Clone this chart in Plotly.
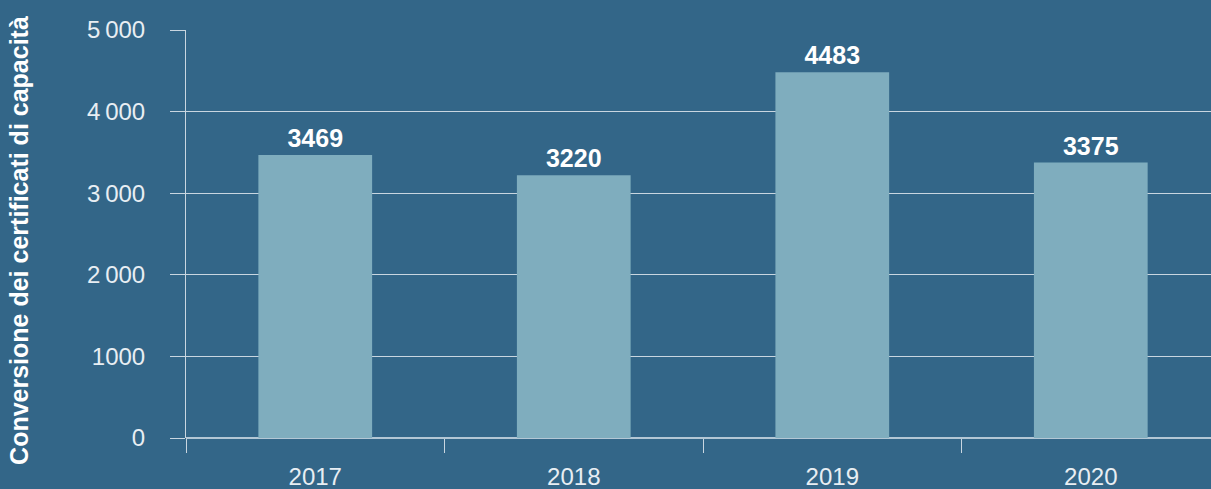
import plotly.graph_objects as go

years = ["2017", "2018", "2019", "2020"]
values = [3469, 3220, 4483, 3375]
y_ticks = [0, 1000, 2000, 3000, 4000, 5000]
y_tick_text = ["0", "1000", "2\u2009000", "3\u2009000", "4\u2009000", "5\u2009000"]
y_title = "Conversione dei certificati di capacità"

BG = "#336688"
BAR = "#7FADBE"
GRID = "#C9D6E0"
FONT = "Liberation Sans"

fig = go.Figure(go.Bar(
    x=years, y=values, width=0.44,
    marker=dict(color=BAR, line=dict(width=0)),
    text=[str(v) for v in values], textposition="outside",
    textfont=dict(family=FONT, size=25, color="white", weight="bold"),
    cliponaxis=False,
))

fig.update_layout(
    width=1211, height=489,
    paper_bgcolor=BG, plot_bgcolor=BG,
    margin=dict(l=186, r=0, t=30, b=51),
    showlegend=False,
    font=dict(family=FONT, color="white"),
)
fig.update_xaxes(
    type="category", range=[-0.5, 3.465],
    showgrid=False, showline=False, zeroline=False,
    ticks="outside", tickson="boundaries", ticklen=14, tickwidth=1, tickcolor=GRID,
    tickfont=dict(family=FONT, size=24, color="#E8EEF3"),
    ticklabelstandoff=22,
)
fig.update_yaxes(
    range=[0, 5000], tickvals=y_ticks, ticktext=y_tick_text,
    showgrid=True, gridcolor=GRID, gridwidth=1,
    showline=True, linecolor=GRID, linewidth=1,
    zeroline=True, zerolinecolor="#B3C7D5", zerolinewidth=2,
    ticks="outside", ticklen=15, tickwidth=1, tickcolor=GRID,
    tickfont=dict(family=FONT, size=24, color="#E8EEF3"),
    ticklabelstandoff=20,
)
fig.add_annotation(
    text=y_title, textangle=-90, xref="paper", yref="paper",
    x=-0.163, y=0.5, xanchor="center", yanchor="middle", showarrow=False,
    yshift=-6,
    font=dict(family=FONT, size=25, color="white", weight="bold"),
)

# the page body has a default 8px margin; drop it so the chart fills the window
fig.write_html("out.html", config={"displayModeBar": False},
               post_script="document.body.style.margin='0';")
